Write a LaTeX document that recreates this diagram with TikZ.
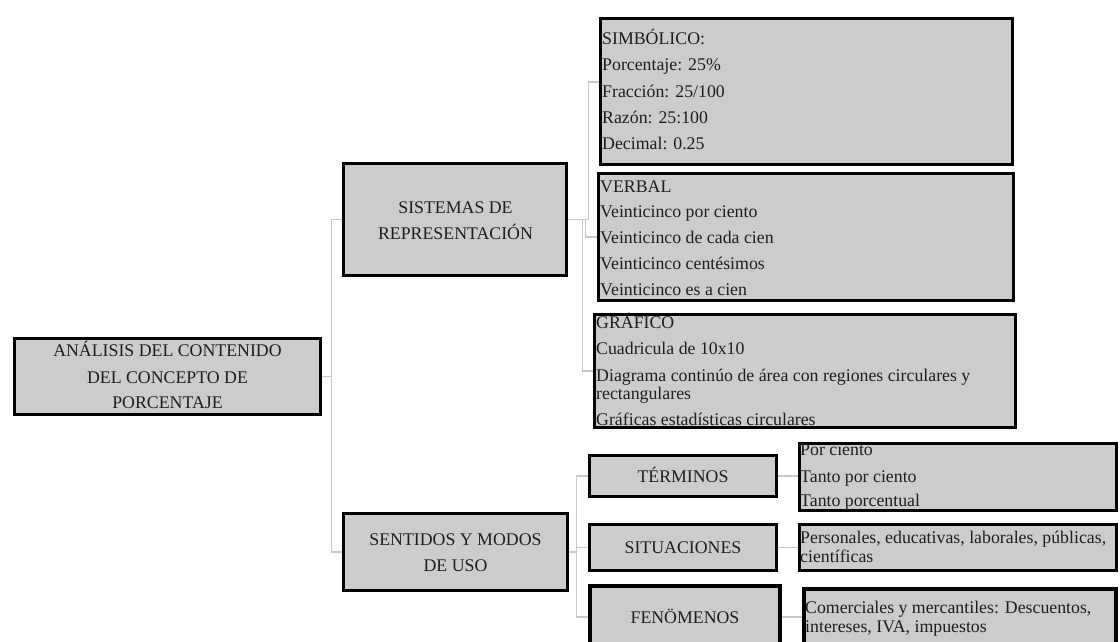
\documentclass[tikz,border=0pt]{standalone}
\usepackage{fontspec}
\setmainfont{Liberation Serif}
\usetikzlibrary{backgrounds}
\definecolor{boxfill}{HTML}{CCCCCC}
\definecolor{linkgray}{HTML}{C8C8C8}
\definecolor{ink}{HTML}{1E1E1E}

\begin{document}
\begin{tikzpicture}[x=1pt,y=-1pt,
  box/.style={draw=black, line width=3pt, fill=boxfill, inner sep=0pt, outer sep=0pt, anchor=north west},
  heavy/.style={line width=4pt},
  link/.style={draw=linkgray, line width=1.2pt},
  lt/.style={anchor=base west, inner sep=0pt, text=ink, font=\fontsize{17.8}{20}\selectfont},
  ct/.style={anchor=base, inner sep=0pt, text=ink, font=\fontsize{17.8}{20}\selectfont}]

\useasboundingbox (0,0) rectangle (1120,642);
\clip (0,0) rectangle (1120,642);

% ---- boxes ----
\node[box, minimum width=306pt, minimum height=76pt]  (root) at (14.5,338.5) {};
\node[box, minimum width=223pt, minimum height=112pt] (sis)  at (343.5,163.5) {};
\node[box, minimum width=224pt, minimum height=77pt]  (sen)  at (343.5,513.5) {};

\node[box, minimum width=412pt, minimum height=146pt] (simb) at (600.5,18.5) {};
\node[box, minimum width=415pt, minimum height=127pt] (verb) at (598.5,173.5) {};
\node[box, minimum width=421pt, minimum height=113pt] (graf) at (594.5,314.5) {};

\node[box, minimum width=187pt, minimum height=41pt]  (term) at (589.5,455.5) {};
\node[box, minimum width=187pt, minimum height=46pt]  (sit)  at (589.5,524.5) {};
\node[box, heavy, minimum width=190pt, minimum height=80pt] (fen) at (590,586) {};

\node[box, minimum width=317pt, minimum height=67pt]  (pc)   at (799.5,443.5) {};
\node[box, minimum width=317pt, minimum height=46pt]  (pe)   at (799.5,524.5) {};
\node[box, heavy, minimum width=312pt, minimum height=80pt] (co) at (804,589) {};

% ---- white ground and connectors (behind the boxes) ----
\begin{pgfonlayer}{background}
  \fill[white] (0,0) rectangle (1120,642);

  \draw[link] (root.east) -- ++(11,0) |- (sis.west);
  \draw[link] (root.east) -- ++(11,0) |- (sen.west);

  \draw[link] (sis.east) -- ++(22,0) |- (simb.west |- 0,82);
  \draw[link] (sis.east) -- ++(19,0) |- (verb.west);
  \draw[link] (sis.east) -- ++(16,0) |- (graf.west);

  \draw[link] (sen.east) -- ++(9,0) |- (term.west);
  \draw[link] (sen.east) -- ++(9,0) |- (sit.west);
  \draw[link] (sen.east) -- ++(9,0) |- (fen.west |- 0,617);

  \draw[link] (term.east) -- (term.east -| pc.west);
  \draw[link] (sit.east) -- (sit.east -| pe.west);
  \draw[link] (fen.east |- 0,617) -- (co.west |- 0,617);
\end{pgfonlayer}

% ---- centred labels ----
\node[ct] (r1) at (167.5,356) {ANÁLISIS DEL CONTENIDO};
\node[ct] (r2) at (167.5,383) {DEL CONCEPTO DE};
\node[ct] (r3) at (167.5,408) {PORCENTAJE};

\node[ct] (s1) at (455.5,213) {SISTEMAS DE};
\node[ct] (s2) at (455.5,239) {REPRESENTACIÓN};

\node[ct] (u1) at (455.5,545) {SENTIDOS Y MODOS};
\node[ct] (u2) at (455.5,571) {DE USO};

\node[ct] (t1) at (683,482) {TÉRMINOS};
\node[ct] (t2) at (683,553) {SITUACIONES};
\node[ct] (t3) at (685,623) {FENÖMENOS};

% ---- symbolic list ----
\node[lt] (a1) at (602,45)  {SIMBÓLICO:};
\node[lt] (a2) at (602,71)  {Porcentaje: 25\%};
\node[lt] (a3) at (602,97)  {Fracción: 25/100};
\node[lt] (a4) at (602,123) {Razón: 25:100};
\node[lt] (a5) at (602,149) {Decimal: 0.25};

% ---- verbal list ----
\node[lt] (b1) at (600,192) {VERBAL};
\node[lt] (b2) at (600,217) {Veinticinco por ciento};
\node[lt] (b3) at (600,243) {Veinticinco de cada cien};
\node[lt] (b4) at (600,269) {Veinticinco centésimos};
\node[lt] (b5) at (600,295) {Veinticinco es a cien};

% ---- graphic list ----
\node[lt] (c1) at (596,328) {GRÁFICO};
\node[lt] (c2) at (596,354) {Cuadricula de 10x10};
\node[lt] (c3) at (596,381) {Diagrama continúo de área con regiones circulares y};
\node[lt] (c4) at (596,399) {rectangulares};
\node[lt] (c5) at (596,425) {Gráficas estadísticas circulares};

% ---- terms, situations, phenomena ----
\node[lt] (d1) at (800,455) {Por ciento};
\node[lt] (d2) at (800,482) {Tanto por ciento};
\node[lt] (d3) at (800,506) {Tanto porcentual};

\node[lt] (e1) at (800,543) {Personales, educativas, laborales, públicas,};
\node[lt] (e2) at (800,562) {científicas};

\node[lt] (f1) at (805,613) {Comerciales y mercantiles: Descuentos,};
\node[lt] (f2) at (805,632) {intereses, IVA, impuestos};
\end{tikzpicture}
\end{document}
